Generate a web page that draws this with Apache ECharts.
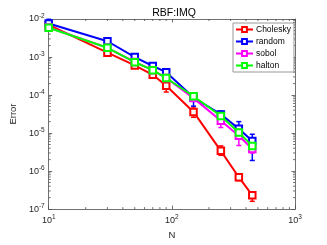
<!DOCTYPE html>
<html><head><meta charset="utf-8">
<script src="https://cdn.jsdelivr.net/npm/echarts@6/dist/echarts.min.js"></script>
<style>html,body{margin:0;padding:0;background:#fff}#c{width:327px;height:245px}</style>
</head><body><div id="c"></div>
<script>
const N = [10, 30, 50, 70, 90, 150, 250, 350, 450];
const seriesNames = ['Cholesky', 'random', 'sobol', 'halton'];
const colors = ['#ff0000', '#0000ff', '#ff00ff', '#00ff00'];

const cholesky   = [7.0e-3, 1.3e-3, 6.0e-4, 3.4e-4, 1.75e-4, 3.6e-5, 3.4e-6, 6.9e-7, 2.3e-7];
const choleskyLo = [6.4e-3, 1.2e-3, 5.5e-4, 3.0e-4, 1.2e-4, 2.6e-5, 2.6e-6, 5.6e-7, 1.6e-7];
const choleskyHi = [7.6e-3, 1.45e-3, 6.6e-4, 3.9e-4, 2.2e-4, 4.9e-5, 4.6e-6, 8.4e-7, 2.7e-7];

const random   = [7.6e-3, 2.6e-3, 1.0e-3, 5.8e-4, 4.0e-4, 8.6e-5, 3.1e-5, 1.3e-5, 6.2e-6];
const randomLo = [7.0e-3, 2.4e-3, 9.0e-4, 5.2e-4, 3.5e-4, 5.1e-5, 2.5e-5, 6.9e-6, 1.9e-6];
const randomHi = [9.8e-3, 2.9e-3, 1.15e-3, 6.6e-4, 4.6e-4, 1.07e-4, 3.8e-5, 2.0e-5, 9.3e-6];

const sobol   = [6.0e-3, 1.75e-3, 7.4e-4, 4.5e-4, 2.8e-4, 8.3e-5, 2.1e-5, 8.5e-6, 3.8e-6];
const sobolLo = [5.6e-3, 1.6e-3, 6.8e-4, 4.1e-4, 2.5e-4, 7.4e-5, 1.4e-5, 4.7e-6, 3.0e-6];
const sobolHi = [6.4e-3, 1.9e-3, 8.0e-4, 4.9e-4, 3.1e-4, 9.3e-5, 2.8e-5, 1.25e-5, 5.0e-6];

const halton   = [5.9e-3, 1.75e-3, 7.3e-4, 4.5e-4, 2.8e-4, 9.3e-5, 2.8e-5, 1.03e-5, 4.6e-6];
const haltonLo = [5.5e-3, 1.6e-3, 6.7e-4, 4.1e-4, 2.6e-4, 8.5e-5, 2.5e-5, 9.0e-6, 4.0e-6];
const haltonHi = [6.3e-3, 1.9e-3, 7.9e-4, 4.9e-4, 3.0e-4, 1.02e-4, 3.1e-5, 1.15e-5, 5.2e-6];

const xMinorTicks = [20,30,40,50,60,70,80,90,200,300,400,500,600,700,800,900];
const yMinorTicks = [];
[1e-7,1e-6,1e-5,1e-4,1e-3].forEach(d => { for (let k = 2; k <= 9; k++) yMinorTicks.push(d * k); });

const vals = [cholesky, random, sobol, halton];
const los = [choleskyLo, randomLo, sobolLo, haltonLo];
const his = [choleskyHi, randomHi, sobolHi, haltonHi];

const FONT = 'Liberation Sans, Arial, sans-serif';
const AX = '#4d4d4d';
const TXT = '#262626';

function powLabel(v) {
  const e = Math.round(Math.log10(v));
  return '{b|10}{s|' + e + '}';
}
const rich = {
  b: { fontSize: 9, color: TXT, fontFamily: FONT },
  s: { fontSize: 6.5, color: TXT, fontFamily: FONT, verticalAlign: 'top', padding: [0, 0, 6, 0] }
};

const series = [];
seriesNames.forEach((name, i) => {
  series.push({
    name: name, type: 'line', z: 10 + i * 2,
    data: N.map((n, j) => [n, vals[i][j]]),
    symbol: 'emptyRect', symbolSize: 6.5,
    lineStyle: { color: colors[i], width: 2 },
    itemStyle: { color: colors[i], borderColor: colors[i], borderWidth: 1.5 },
    animation: false
  });
  series.push({
    name: name, type: 'custom', z: 9 + i * 2,
    data: N.map((n, j) => [n, los[i][j], his[i][j]]),
    encode: { x: 0, y: [1, 2] },
    renderItem: function (params, api) {
      const x = api.value(0);
      const a = api.coord([x, api.value(1)]);
      const b = api.coord([x, api.value(2)]);
      const w = 2.5;
      const st = { stroke: colors[i], lineWidth: 1.5 };
      return { type: 'group', children: [
        { type: 'line', shape: { x1: a[0], y1: a[1], x2: b[0], y2: b[1] }, style: st },
        { type: 'line', shape: { x1: a[0] - w, y1: a[1], x2: a[0] + w, y2: a[1] }, style: st },
        { type: 'line', shape: { x1: b[0] - w, y1: b[1], x2: b[0] + w, y2: b[1] }, style: st }
      ]};
    },
    animation: false, silent: true
  });
});

series.push({
  type: 'custom', z: 2, silent: true, animation: false,
  data: xMinorTicks.map(v => [v, 1e-4]),
  renderItem: function (params, api) {
    const cs = params.coordSys;
    const p = api.coord([api.value(0), api.value(1)]);
    const st = { stroke: AX, lineWidth: 0.8 };
    return { type: 'group', children: [
      { type: 'line', shape: { x1: p[0], y1: cs.y + cs.height, x2: p[0], y2: cs.y + cs.height - 2 }, style: st },
      { type: 'line', shape: { x1: p[0], y1: cs.y, x2: p[0], y2: cs.y + 2 }, style: st }
    ]};
  }
});
series.push({
  type: 'custom', z: 2, silent: true, animation: false,
  data: yMinorTicks.map(v => [100, v]),
  renderItem: function (params, api) {
    const cs = params.coordSys;
    const p = api.coord([api.value(0), api.value(1)]);
    const st = { stroke: AX, lineWidth: 0.8 };
    return { type: 'group', children: [
      { type: 'line', shape: { x1: cs.x, y1: p[1], x2: cs.x + 2, y2: p[1] }, style: st },
      { type: 'line', shape: { x1: cs.x + cs.width, y1: p[1], x2: cs.x + cs.width - 2, y2: p[1] }, style: st }
    ]};
  }
});

const axisCommon = {
  type: 'log', logBase: 10,
  axisLine: { lineStyle: { color: AX, width: 0.8 } },
  axisTick: { inside: true, length: 3.5, lineStyle: { color: AX, width: 0.8 } },
  splitLine: { show: false }
};

const option = {
  backgroundColor: '#fff',
  animation: false,
  title: {
    text: 'RBF:IMQ', left: 169, top: 3, textAlign: 'center',
    textStyle: { fontSize: 10.5, fontWeight: 'normal', color: '#000', fontFamily: FONT }
  },
  grid: { left: 43, right: 32, top: 19, bottom: 29 },
  legend: {
    data: seriesNames, left: 233, top: 23, orient: 'vertical',
    itemWidth: 17, itemHeight: 6, itemGap: 3,
    padding: [2, 3, 2, 2],
    borderColor: '#7f7f7f', borderWidth: 0.8, backgroundColor: '#fff',
    textStyle: { fontSize: 8.5, color: '#000', fontFamily: FONT, padding: [0, 0, 0, -2] },
    z: 50
  },
  xAxis: [
    Object.assign({}, axisCommon, {
      min: 10, max: 1000, position: 'bottom',
      name: 'N', nameLocation: 'middle', nameGap: 16,
      nameTextStyle: { fontSize: 9.5, color: TXT, fontFamily: FONT },
      axisLabel: { formatter: powLabel, rich: rich, margin: 5 }
    }),
    Object.assign({}, axisCommon, {
      min: 10, max: 1000, position: 'top', axisLabel: { show: false }
    })
  ],
  yAxis: [
    Object.assign({}, axisCommon, {
      min: 1e-7, max: 1e-2, position: 'left',
      name: 'Error', nameLocation: 'middle', nameGap: 26,
      nameTextStyle: { fontSize: 9.5, color: TXT, fontFamily: FONT },
      axisLabel: { formatter: powLabel, rich: rich, margin: 4 }
    }),
    Object.assign({}, axisCommon, {
      min: 1e-7, max: 1e-2, position: 'right', axisLabel: { show: false }
    })
  ],
  series: series
};

const chart = echarts.init(document.getElementById('c'), null, { renderer: 'canvas' });
chart.setOption(option);
</script>
</body></html>
